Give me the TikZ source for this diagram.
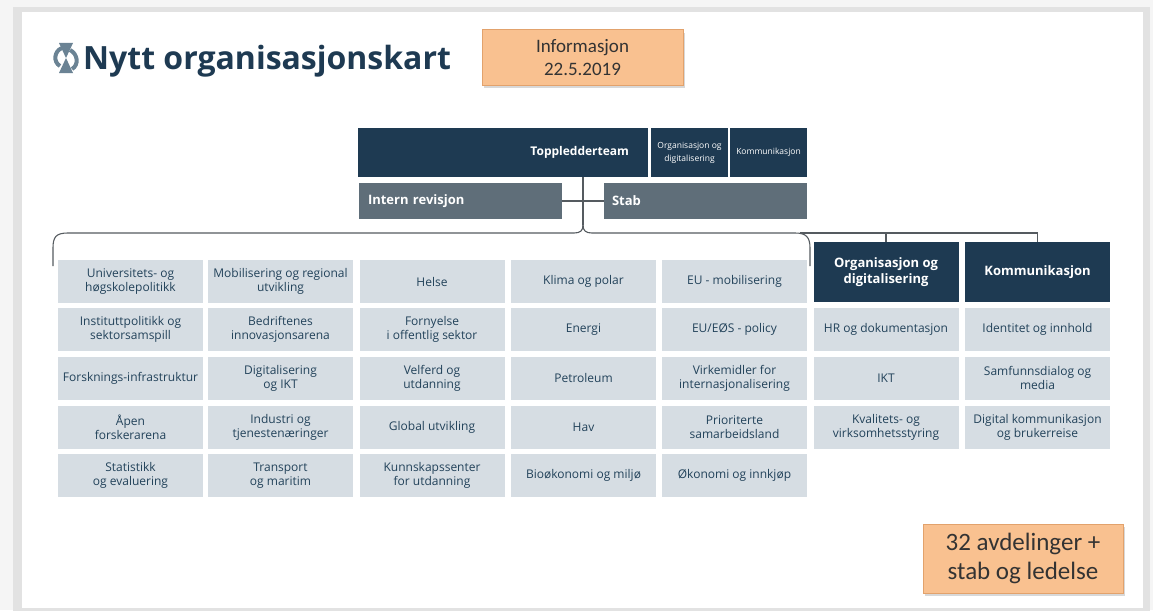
\documentclass[tikz,border=0pt]{standalone}
\usepackage{fontspec}
\setmainfont{Open Sans}
\newfontfamily\calibrifont{Carlito}
\usetikzlibrary{positioning, shadows}

\definecolor{navy}{HTML}{1E3A52}
\definecolor{staffgray}{HTML}{5F6E79}
\definecolor{cellgray}{HTML}{D6DDE3}
\definecolor{celltext}{HTML}{22425A}
\definecolor{orangefill}{HTML}{F9C190}
\definecolor{orangeline}{HTML}{E2A26C}
\definecolor{linegray}{HTML}{555B60}
\definecolor{framegray}{HTML}{E2E2E2}
\definecolor{logogray}{HTML}{6B8394}

\begin{document}
\begin{tikzpicture}[x=1pt, y=-1pt,
    lead/.style={fill=navy, text=white, minimum height=49pt, inner sep=0pt, align=center},
    staff/.style={fill=staffgray, text=white, font=\bfseries\fontsize{13}{15}\selectfont, minimum height=36pt, inner ysep=0pt, align=left},
    dept/.style={fill=cellgray, text=celltext, minimum width=145pt, minimum height=43pt, inner sep=0pt, align=center, font=\fontsize{12}{14}\selectfont},
    depthead/.style={fill=navy, text=white, minimum width=145pt, minimum height=60pt, inner sep=0pt, align=center, font=\bfseries\fontsize{13}{16}\selectfont},
    infobox/.style={fill=orangefill, draw=orangeline, line width=1pt, align=center, inner sep=0pt, text=black!80, drop shadow={opacity=0.3, shadow xshift=2pt, shadow yshift=-3pt}},
    link/.style={draw=linegray, line width=1.1pt}
]
    \useasboundingbox (0,0) rectangle (1153,610);
    \fill[white!96!black] (0,0) rectangle (1153,610);
    \fill[framegray] (13,7) rectangle (1150,615);
    \fill[white] (22,12) rectangle (1143,608);

    % Title and logo
    \fill[logogray] (59,43) -- (73,43) -- (66,58) -- cycle;
    \fill[logogray] (66,58) -- (73,73) -- (59,73) -- cycle;
    \draw[logogray, line width=4pt] (62,48) .. controls (54,51) and (53,62) .. (60,66);
    \draw[logogray, line width=4pt] (70,50) .. controls (78,54) and (79,65) .. (72,69);
    \node[anchor=base west, inner sep=0pt, text=navy, font=\bfseries\fontsize{32}{38}\selectfont] (title) at (83,70) {Nytt organisasjonskart};

    \node[infobox, minimum width=201pt, minimum height=55pt, font=\calibrifont\fontsize{19}{23}\selectfont] (info) at (582.5,57.5) {Informasjon\\22.5.2019};

    % Leadership and staff
    \node[lead, minimum width=290pt, text width=252pt, inner xsep=19pt, align=right, font=\bfseries\fontsize{12}{15}\selectfont] (top) at (503,152.5) {Toppledderteam};
    \node[lead, minimum width=77pt, font=\fontsize{8.5}{13}\selectfont] (toporg) at (689.5,152.5) {Organisasjon og\\digitalisering};
    \node[lead, minimum width=77pt, font=\fontsize{8.5}{13}\selectfont] (topkom) at (768.5,152.5) {Kommunikasjon};

    \node[staff, text width=185pt, inner xsep=9pt] (intern) at (460.5,201) {Intern revisjon};
    \node[staff, text width=187pt, inner xsep=8pt] (stab) at (705.5,201) {Stab};

    % Connectors
    \coordinate (cusp) at (583,225);
    \coordinate (bl) at (53,266);
    \coordinate (br) at (810,266);
    \coordinate (rail) at (800,233);
    \draw[link] (top.south -| cusp) -- (cusp);
    \draw[link] (intern) -- (stab);
    \draw[link] (bl) -- (53,248) .. controls (53,237) and (56,233) .. (68,233) -- (574,233) .. controls (580,233) and (583,231) .. (cusp);
    \draw[link] (cusp) .. controls (583,231) and (586,233) .. (592,233) -- (795,233) .. controls (806,233) and (810,237) .. (810,248) -- (br);

    % Departments
    \node[dept] (uhpol) at (130.5,281.5) {Universitets- og\\høgskolepolitikk};
    \node[dept] (instpol) at (130.5,329.5) {Instituttpolitikk og\\sektorsamspill};
    \node[dept] (infra) at (130.5,378) {Forsknings-infrastruktur};
    \node[dept] (forsk) at (130.5,427) {Åpen\\forskerarena};
    \node[dept] (stat) at (130.5,475.5) {Statistikk\\og evaluering};

    \node[dept] (mobreg) at (280.5,281.5) {Mobilisering og regional\\utvikling};
    \node[dept] (bedr) at (280.5,329.5) {Bedriftenes\\innovasjonsarena};
    \node[dept] (digikt) at (280.5,378) {Digitalisering\\og IKT};
    \node[dept] (indtj) at (280.5,427) {Industri og\\tjenestenæringer};
    \node[dept] (transp) at (280.5,475.5) {Transport\\og maritim};

    \node[dept] (helse) at (432,281.5) {Helse};
    \node[dept] (forny) at (432,329.5) {Fornyelse\\i offentlig sektor};
    \node[dept] (velf) at (432,378) {Velferd og\\utdanning};
    \node[dept] (global) at (432,427) {Global utvikling};
    \node[dept] (kunnsk) at (432,475.5) {Kunnskapssenter\\for utdanning};

    \node[dept] (klima) at (583.5,281.5) {Klima og polar};
    \node[dept] (energi) at (583.5,329.5) {Energi};
    \node[dept] (petro) at (583.5,378) {Petroleum};
    \node[dept] (hav) at (583.5,427) {Hav};
    \node[dept] (bio) at (583.5,475.5) {Bioøkonomi og miljø};

    \node[dept] (eumob) at (734.5,281.5) {EU - mobilisering};
    \node[dept] (eupol) at (734.5,329.5) {EU/EØS - policy};
    \node[dept] (virk) at (734.5,378) {Virkemidler for\\internasjonalisering};
    \node[dept] (prio) at (734.5,427) {Prioriterte\\samarbeidsland};
    \node[dept] (okon) at (734.5,475.5) {Økonomi og innkjøp};

    \node[depthead] (orgh) at (886,272) {Organisasjon og\\digitalisering};
    \node[dept] (hrdok) at (886,329.5) {HR og dokumentasjon};
    \node[dept] (ikt) at (886,378) {IKT};
    \node[dept] (kval) at (886,427) {Kvalitets- og\\virksomhetsstyring};

    \node[depthead] (komh) at (1037.5,272) {Kommunikasjon};
    \node[dept] (ident) at (1037.5,329.5) {Identitet og innhold};
    \node[dept] (samf) at (1037.5,378) {Samfunnsdialog og\\media};
    \node[dept] (digkom) at (1037.5,427) {Digital kommunikasjon\\og brukerreise};

    \draw[link] (rail) -| (orgh.north);
    \draw[link] (rail) -| (komh.north);

    \node[infobox, minimum width=200pt, minimum height=69pt, font=\calibrifont\fontsize{25}{29}\selectfont] (total) at (1023,558.5) {32 avdelinger +\\stab og ledelse};
\end{tikzpicture}
\end{document}
